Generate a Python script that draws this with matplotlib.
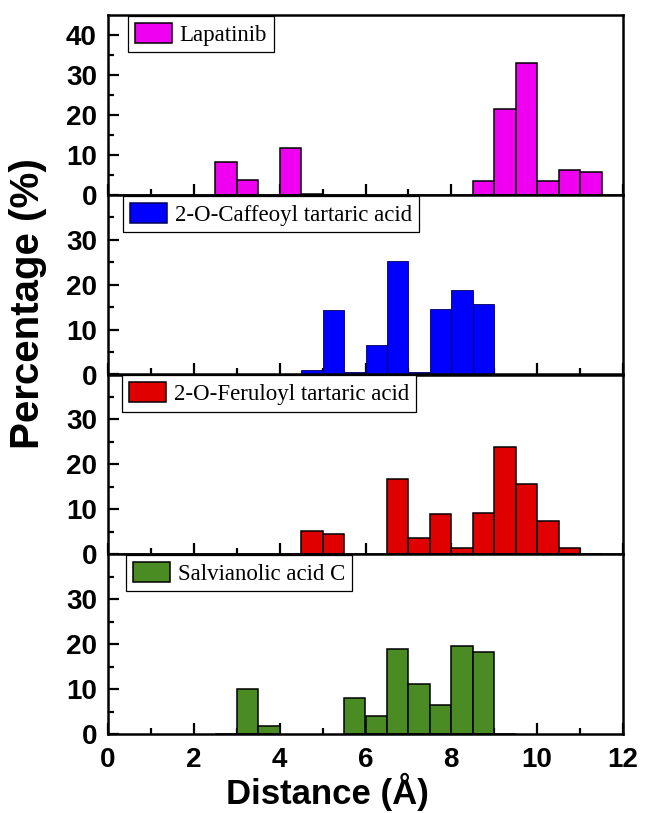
import matplotlib
matplotlib.use("Agg")
import matplotlib.pyplot as plt
from matplotlib.patches import Patch
from matplotlib.ticker import MultipleLocator, FixedLocator

# ---------------- data ----------------
bin_width = 0.5
names = ["Lapatinib", "2-O-Caffeoyl tartaric acid", "2-O-Feruloyl tartaric acid", "Salvianolic acid C"]
colors = ["#F000F0", "#0000FF", "#E00000", "#4B8B24"]
edgecolors = ["black", "#00005A", "black", "black"]

lap_edges = [2.5, 3.0, 4.0, 4.5, 8.5, 9.0, 9.5, 10.0, 10.5, 11.0]
lap_vals = [8.3, 3.8, 11.8, 0.3, 3.5, 21.5, 33.0, 3.5, 6.3, 5.8]

caf_edges = [4.5, 5.0, 5.5, 6.0, 6.5, 7.0, 7.5, 8.0, 8.5]
caf_vals = [1.0, 14.3, 0.5, 6.5, 25.4, 0.6, 14.6, 18.9, 15.8]

fer_edges = [4.5, 5.0, 6.5, 7.0, 7.5, 8.0, 8.5, 9.0, 9.5, 10.0, 10.5, 11.0]
fer_vals = [5.2, 4.4, 16.8, 3.6, 8.9, 1.4, 9.1, 23.8, 15.6, 7.4, 1.4, 0.1]

sal_edges = [2.5, 3.0, 3.5, 5.5, 6.0, 6.5, 7.0, 7.5, 8.0, 8.5, 9.0]
sal_vals = [0.1, 10.1, 1.8, 8.0, 4.1, 19.0, 11.1, 6.5, 19.5, 18.2, 0.1]

edges_list = [lap_edges, caf_edges, fer_edges, sal_edges]
vals_list = [lap_vals, caf_vals, fer_vals, sal_vals]
ylims = [45, 40, 40, 40]
yticks_major = [[0, 10, 20, 30, 40], [0, 10, 20, 30], [0, 10, 20, 30], [0, 10, 20, 30]]
yticks_minor = [[5, 15, 25, 35], [5, 15, 25, 35], [5, 15, 25, 35], [5, 15, 25, 35]]
xticks = [0, 2, 4, 6, 8, 10, 12]

# ---------------- layout ----------------
W, H = 645, 813
fig = plt.figure(figsize=(W / 100, H / 100), dpi=100)
left_px, right_px = 108, 623
tops = [15, 195, 374.5, 554]
bots = [195, 374.5, 554, 734]
leg_x = [128, 123, 122, 126]

tick_font = dict(family="Liberation Sans", weight="bold", size=20)

for i in range(4):
    ax = fig.add_axes([left_px / W, 1 - bots[i] / H, (right_px - left_px) / W, (bots[i] - tops[i]) / H])
    ax.bar(edges_list[i], vals_list[i], width=bin_width, align="edge",
           color=colors[i], edgecolor=edgecolors[i], linewidth=1.1 if i != 1 else 0.6, zorder=2)
    ax.set_xlim(0, 12)
    ax.set_ylim(0, ylims[i])
    ax.xaxis.set_major_locator(FixedLocator(xticks))
    ax.xaxis.set_minor_locator(MultipleLocator(1))
    ax.yaxis.set_major_locator(FixedLocator(yticks_major[i]))
    ax.yaxis.set_minor_locator(FixedLocator(yticks_minor[i]))
    ax.tick_params(axis="both", which="major", direction="in", length=8, width=1.6,
                   top=False, right=False, pad=8)
    ax.tick_params(axis="both", which="minor", direction="in", length=4.5, width=1.6,
                   top=False, right=False)
    for s in ax.spines.values():
        s.set_linewidth(1.8)
        s.set_zorder(3)
    ax.set_yticks(yticks_major[i])
    ax.set_yticklabels([str(v) for v in yticks_major[i]], fontdict=tick_font)
    if i == 3:
        ax.set_xticklabels([str(v) for v in xticks], fontdict=tick_font)
        ax.tick_params(axis="x", which="major", pad=9)
    else:
        ax.set_xticklabels([])
    handle = Patch(facecolor=colors[i], edgecolor="black" if i != 1 else "#00005A", linewidth=1.1)
    leg = ax.legend([handle], [names[i]], loc="upper left",
                    bbox_to_anchor=((leg_x[i] - left_px) / (right_px - left_px), 0.995),
                    borderaxespad=0, prop=dict(family="Liberation Serif", size=16.5),
                    fancybox=False, framealpha=1, edgecolor="black",
                    handlelength=1.6, handleheight=0.95, handletextpad=0.35,
                    borderpad=0.3)
    leg.get_frame().set_linewidth(0.9)
    leg.set_zorder(5)

fig.text(28 / W, 1 - 304 / H, "Percentage (%)", rotation=90, ha="center", va="center",
         family="Liberation Sans", weight="bold", size=29)
fig.text(327 / W, 1 - 804 / H, "Distance (Å)", ha="center", va="baseline",
         family="Liberation Sans", weight="bold", size=25)

fig.savefig("out.png", dpi=100)
